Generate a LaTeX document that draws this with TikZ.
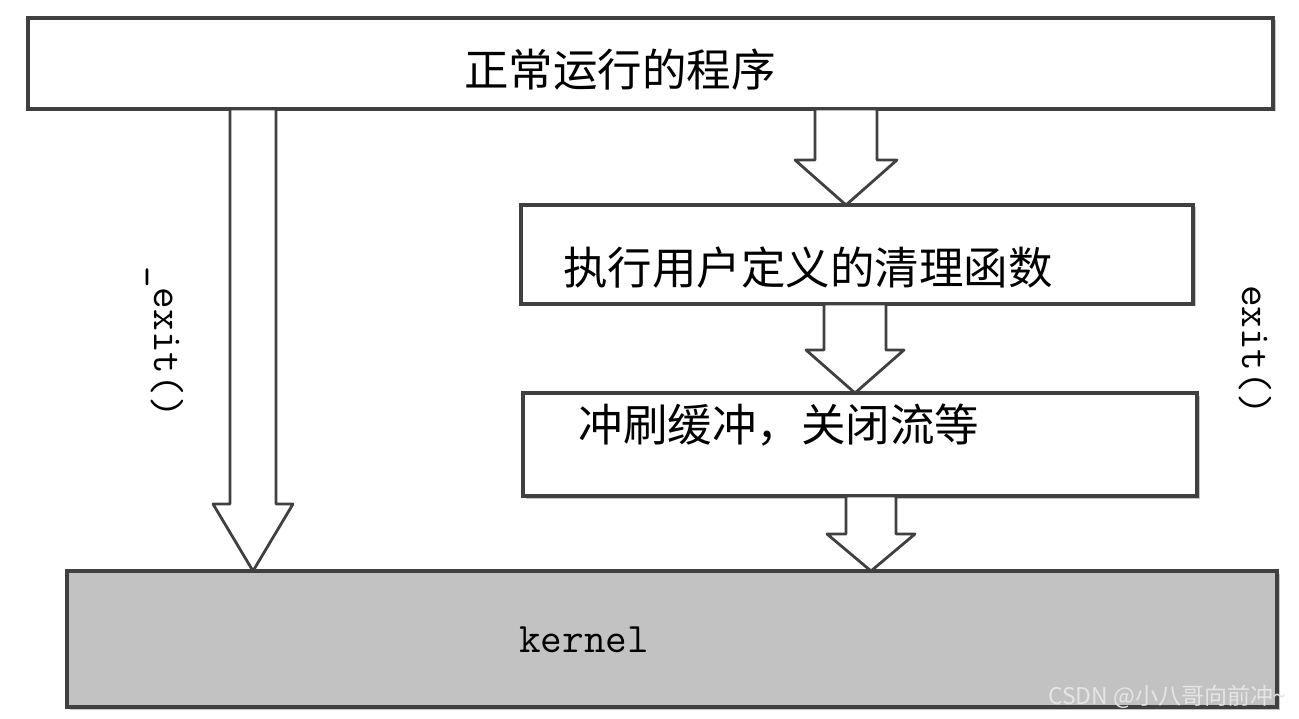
\documentclass[tikz,border=0pt]{standalone}
\usepackage{fontspec}
\newfontfamily\cjk{Noto Sans CJK SC}
\usetikzlibrary{shadows}

\tikzset{
  box/.style={draw=black!75, line width=3.5pt, fill=white, outer sep=0pt, inner sep=0pt,
    drop shadow={shadow xshift=2.5pt, shadow yshift=-2.5pt, opacity=.45}},
  fatarrow/.style={draw=black!75, line width=2.8pt, fill=white, line join=round},
  cjktext/.style={font=\cjk\fontsize{44.5}{50}\selectfont},
  codetext/.style={font=\ttfamily\fontsize{42}{46}\selectfont, text=black},
}

\begin{document}
\begin{tikzpicture}[x=1pt,y=-1pt]
\useasboundingbox (0,0) rectangle (1299,719);

% boxes
\node[box, minimum width=1245, minimum height=91] (prog) at (650.5,63.5) {};
\node[box, minimum width=672, minimum height=99] (cleanup) at (857,254.5) {};
\node[box, minimum width=674, minimum height=103] (flush) at (860,444.5) {};
\node[box, fill=black!24, minimum width=1210, minimum height=136] (kernel) at (672,639) {};

% arrows: x / shaft / head / head length / from / to
\foreach \x/\s/\h/\l/\from/\to in {253/23/40/67/prog/kernel, 846/31/51/45/prog/cleanup, 855/31/49/43/cleanup/flush, 871/25/44/37/flush/kernel} {
\draw[fatarrow] (\x,0 |- \to.north) -- ++(-\h,-\l) coordinate (hd) -- ++(\h-\s,0) -- (\x-\s,0 |- \from.south) -- (\x+\s,0 |- \from.south) -- (\x+\s,0 |- hd) -- ++(\h-\s,0) -- cycle;
}

% texts
\node[cjktext] (progtxt) at (620,70) {正常运行的程序};
\node[cjktext] (cleanuptxt) at (808,268) {执行用户定义的清理函数};
\node[cjktext] (flushtxt) at (779,425) {冲刷缓冲，关闭流等};
\node[codetext] (kerneltxt) at (584,640) {kernel};
\node[codetext, rotate=-90] (fastexit) at (165,342) {\_exit()};
\node[codetext, rotate=-90] (normexit) at (1255,350) {exit()};

\node[font=\cjk\fontsize{23}{26}\selectfont, text=black!10] (mark) at (1167,697) {CSDN @小八哥向前冲\textasciitilde};
\end{tikzpicture}
\end{document}
